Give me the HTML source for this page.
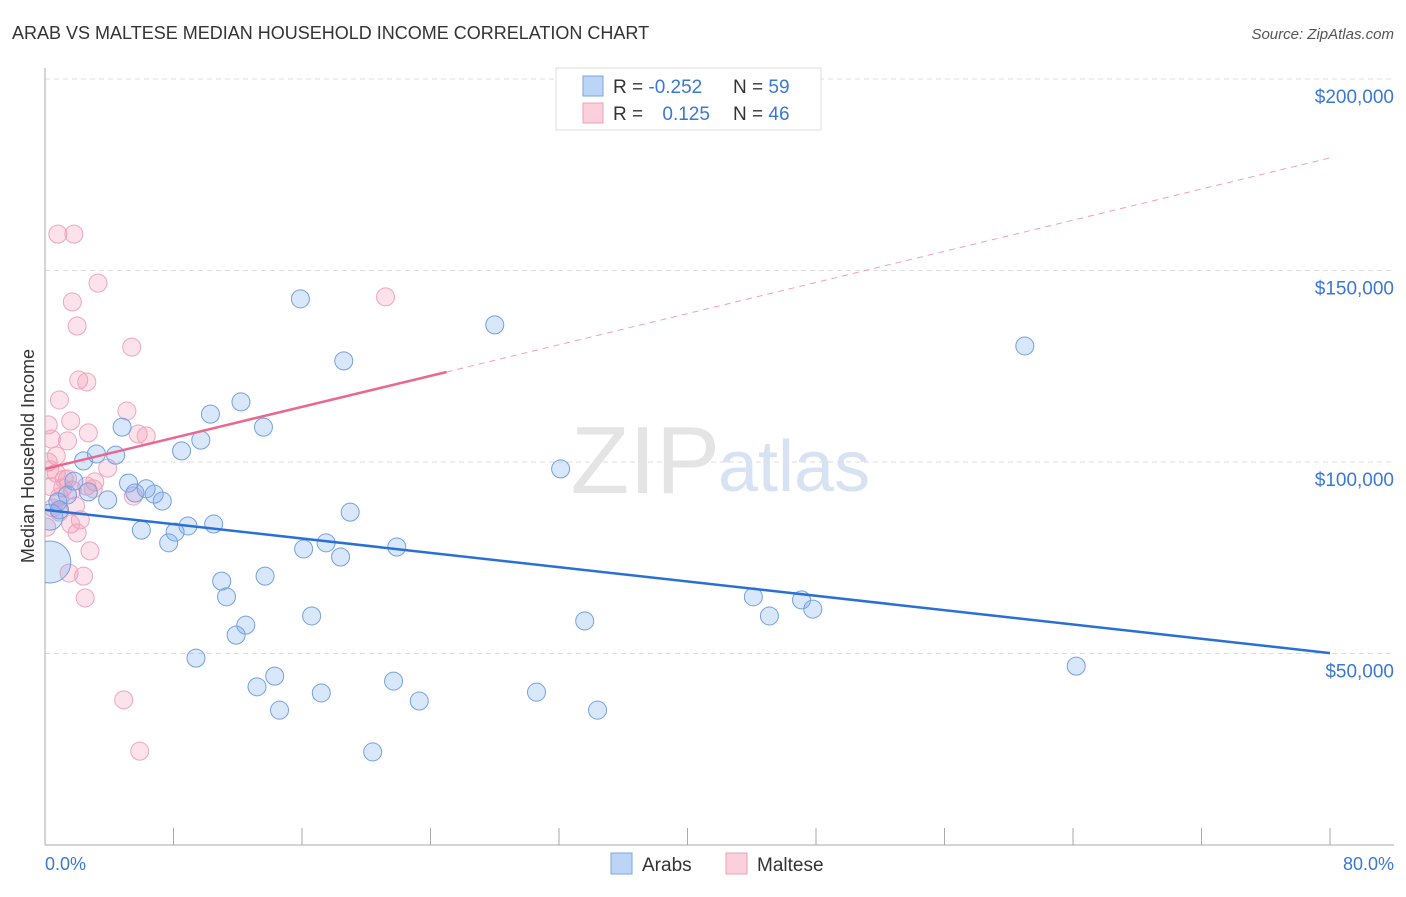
<!DOCTYPE html>
<html><head><meta charset="utf-8"><style>
body{margin:0;background:#fff;font-family:"Liberation Sans",sans-serif;}
svg text{font-family:"Liberation Sans",sans-serif;}
</style></head><body>
<svg width="1406" height="892" viewBox="0 0 1406 892">
<defs><clipPath id="plotclip"><rect x="45" y="60" width="1360" height="785"/></clipPath></defs>
<text x="12" y="39" font-size="18" fill="#333">ARAB VS MALTESE MEDIAN HOUSEHOLD INCOME CORRELATION CHART</text>
<text x="1394" y="39" font-size="15" fill="#555" font-style="italic" text-anchor="end">Source: ZipAtlas.com</text>
<g id="grid"></g>
<text x="720" y="493" font-size="96" fill="#e4e4e4" font-family="Liberation Serif" text-anchor="end">ZIP</text>
<text x="718" y="491" font-size="72" fill="#d7e3f3">atlas</text>
<g id="marks" clip-path="url(#plotclip)"></g>
<text x="34" y="456" font-size="18" fill="#333" transform="rotate(-90 34 456)" text-anchor="middle">Median Household Income</text>
<text x="45" y="870" font-size="18" fill="#3a78d6">0.0%</text>
<text x="1394" y="870" font-size="18" fill="#3a78d6" text-anchor="end">80.0%</text>
<g>
<rect x="556" y="68" width="265" height="62" fill="#fff" stroke="#ddd"/>
<rect x="583" y="76" width="20" height="20" fill="#bcd5f7" stroke="#7aa6e6"/>
<rect x="583" y="103" width="20" height="20" fill="#fbcfdc" stroke="#eea0b8"/>
<text x="613" y="93" font-size="19" fill="#333">R = <tspan fill="#3a78d6">-0.252</tspan></text>
<text x="733" y="93" font-size="19" fill="#333">N = <tspan fill="#3a78d6">59</tspan></text>
<text x="613" y="120" font-size="19" fill="#333">R = <tspan fill="#3a78d6" dx="14">0.125</tspan></text>
<text x="733" y="120" font-size="19" fill="#333">N = <tspan fill="#3a78d6">46</tspan></text>
</g>
<g>
<rect x="611" y="853" width="21" height="21" fill="#bcd5f7" stroke="#7aa6e6"/>
<text x="642" y="871" font-size="19" fill="#333">Arabs</text>
<rect x="726" y="853" width="21" height="21" fill="#fbcfdc" stroke="#eea0b8"/>
<text x="757" y="871" font-size="19" fill="#333">Maltese</text>
</g>
</svg>
<script>
const yTicks=[50000,100000,150000,200000];
const yTickLabels=["$50,000","$100,000","$150,000","$200,000"];
const xTicks=[0,8,16,24,32,40,48,56,64,72,80];
const arabX=[15.9,28.0,18.6,61.0,10.3,12.2,13.6,4.8,9.7,8.5,3.2,4.4,2.4,32.1,5.2,6.3,5.6,6.8,7.3,3.9,1.4,0.8,0.9,19.0,0.3,10.5,8.9,8.1,6.0,7.7,17.5,16.1,21.9,18.4,0.3,13.7,11.0,11.3,44.1,47.1,47.8,16.6,45.1,33.6,12.5,11.9,9.4,64.2,14.3,21.7,13.2,17.2,30.6,23.3,14.6,34.4,20.4,2.7,1.8];
const arabY=[142.6,135.8,126.4,130.3,112.5,115.7,109.1,109.1,105.7,102.9,102.1,101.8,100.3,98.2,94.5,93.0,91.9,91.6,89.8,90.1,91.4,89.6,87.5,86.9,85.6,83.8,83.3,81.7,82.2,78.9,78.9,77.3,77.8,75.2,73.9,70.2,68.9,64.8,64.8,64.0,61.6,59.8,59.8,58.5,57.4,54.8,48.8,46.7,44.1,42.8,41.3,39.7,39.9,37.6,35.2,35.2,24.3,92.2,95.0];
const arabR=[9,9,9,9,9,9,9,9,9,9,9,9,9,9,9,9,9,9,9,9,9,9,9,9,13,9,9,9,9,9,9,9,9,9,21,9,9,9,9,9,9,9,9,9,9,9,9,9,9,9,9,9,9,9,9,9,9,9,9];
const maltX=[0.8,1.8,3.3,1.7,2.0,21.2,5.4,2.1,2.6,0.9,5.1,1.6,0.2,2.7,5.8,6.3,0.4,1.4,0.7,0.2,3.9,0.7,1.4,3.1,0.4,1.1,2.6,5.5,1.7,0.9,2.2,0.9,1.6,0.1,2.0,2.8,1.5,2.4,2.5,4.9,5.9,0.5,1.2,3.0,0.3,1.9];
const maltY=[159.5,159.5,146.7,141.8,135.5,143.1,130.0,121.4,120.9,116.2,113.3,110.7,109.7,107.6,107.3,106.8,106.0,105.5,101.6,100.0,98.4,97.1,95.6,94.8,93.5,93.2,93.7,91.1,92.7,90.9,84.9,86.9,83.8,83.0,81.5,76.8,71.0,70.2,64.5,37.9,24.5,88.0,95.5,93.0,98.0,88.5];
const arabTrend=[[0,87.5],[80,50.1]];
const maltTrend=[[0,98.2],[25,123.5],[80,179.4]];
const sx=v=>45+v/80*1285;
const sy=v=>845-v/50*191.5;
const NS="http://www.w3.org/2000/svg";
function mk(t,a,p){const e=document.createElementNS(NS,t);for(const k in a)e.setAttribute(k,a[k]);p.appendChild(e);return e;}
const grid=document.getElementById('grid'),marks=document.getElementById('marks');
yTicks.forEach((v,i)=>{
 const l=mk('line',{x1:45,x2:1394,y1:sy(v/1000),y2:sy(v/1000),stroke:'#ddd','stroke-dasharray':'5,4'},grid);
 
 
 const t=mk('text',{x:1394,y:sy(v/1000)+24,'font-size':19,fill:'#3a78d6','text-anchor':'end'},grid);
 t.textContent=yTickLabels[i];
 
 
});
const ya=mk('line',{x1:45,x2:45,y1:68,y2:845,stroke:'#aaa'},grid);


const xa=mk('line',{x1:45,x2:1394,y1:845,y2:845,stroke:'#aaa'},grid);


xTicks.forEach(v=>{
 const t=mk('line',{x1:sx(v),x2:sx(v),y1:828,y2:845,stroke:'#aaa'},grid);
 
 
});
maltX.forEach((x,i)=>{
 const c=mk('circle',{cx:sx(x),cy:sy(maltY[i]),r:9,fill:'rgba(245,150,180,0.28)',stroke:'#eea6bd','stroke-width':1},marks);
 
 
});
arabX.forEach((x,i)=>{
 const c=mk('circle',{cx:sx(x),cy:sy(arabY[i]),r:arabR[i],fill:'rgba(120,170,240,0.28)',stroke:'#73a0e2','stroke-width':1},marks);
 
 
});
const bl=mk('line',{x1:sx(arabTrend[0][0]),y1:sy(arabTrend[0][1]),x2:sx(arabTrend[1][0]),y2:sy(arabTrend[1][1]),stroke:'#2a6fd6','stroke-width':2.5},marks);


const pl=mk('line',{x1:sx(maltTrend[0][0]),y1:sy(maltTrend[0][1]),x2:sx(maltTrend[1][0]),y2:sy(maltTrend[1][1]),stroke:'#e8688f','stroke-width':2.5},marks);


const pd=mk('line',{x1:sx(maltTrend[1][0]),y1:sy(maltTrend[1][1]),x2:sx(maltTrend[2][0]),y2:sy(maltTrend[2][1]),stroke:'#eea0b8','stroke-width':1,'stroke-dasharray':'6,5'},marks);


</script>
</body></html>
